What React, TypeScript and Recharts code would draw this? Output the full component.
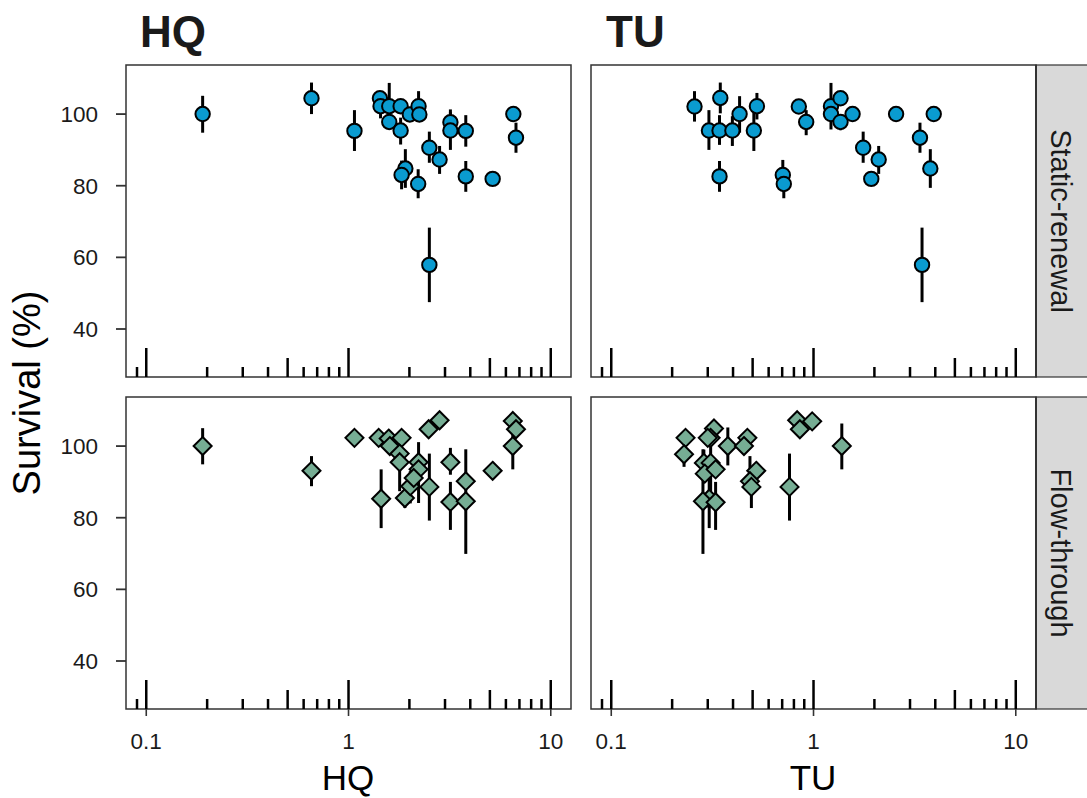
import React from "react";
import { ScatterChart, Scatter, XAxis, YAxis, ErrorBar, ReferenceLine, ReferenceArea } from "recharts";

const FONT = "'Liberation Sans', Arial, Helvetica, sans-serif";

// Panel titles / facets
const PANEL_TITLES = ["HQ", "TU"];
const STRIP_LABELS = ["Static-renewal", "Flow-through"];
const Y_TITLE = "Survival (%)";

// Axes
const X_DOMAIN: [number, number] = [0.0794, 12.59];
const Y_DOMAIN: [number, number] = [26.6, 113.7];
const X_TICKS = [0.1, 1, 10];
const Y_TICKS = [40, 60, 80, 100];
const LOG_TICKS_MAJOR = [0.1, 1, 10];
const LOG_TICKS_MID = [0.5, 5];
const LOG_TICKS_MINOR = [0.09, 0.2, 0.3, 0.4, 0.6, 0.7, 0.8, 0.9, 2, 3, 4, 6, 7, 8, 9];
const LOG_TICK_LEN = { major: 8.1, mid: 5.3, minor: 2.8 };

// Static-renewal, HQ
const SR_HQ_X = [0.19, 0.656, 1.07, 1.43, 1.44, 1.59, 1.59, 1.81, 1.81, 1.91, 1.83, 2.01, 2.22, 2.24, 2.21, 2.51, 2.51, 2.82, 3.19, 3.19, 3.8, 3.8, 5.16, 6.53, 6.73];
const SR_HQ_Y = [100, 104.4, 95.3, 104.4, 102.2, 102.2, 97.8, 102.2, 95.4, 84.8, 83.0, 99.9, 102.2, 99.9, 80.5, 90.6, 57.9, 87.3, 97.7, 95.4, 95.3, 82.6, 81.9, 100, 93.4];
const SR_HQ_LO = [94.8, 100, 89.7, 104.4, 98.8, 97.0, 97.8, 102.2, 91.5, 79.4, 79.0, 99.9, 99.0, 99.9, 76.5, 86.4, 47.5, 83.3, 97.7, 90.0, 90.9, 78.3, 81.9, 98.8, 89.2];
const SR_HQ_HI = [105.1, 108.8, 101.1, 104.4, 104.0, 108.7, 97.8, 102.2, 99.0, 90.2, 87.0, 99.9, 106.4, 99.9, 84.6, 95.1, 68.3, 91.1, 100.5, 101.3, 99.7, 86.9, 81.9, 101.2, 97.6];

// Static-renewal, TU
const SR_TU_X = [0.258, 0.346, 0.304, 0.343, 0.397, 0.431, 0.525, 0.507, 0.343, 0.705, 0.713, 0.846, 0.92, 1.22, 1.22, 1.36, 1.36, 1.56, 1.76, 1.93, 2.1, 2.56, 3.36, 3.44, 3.78, 3.93];
const SR_TU_Y = [102.1, 104.5, 95.4, 95.4, 95.4, 100, 102.2, 95.4, 82.6, 83.0, 80.5, 102.1, 97.8, 102.2, 100, 104.4, 97.8, 100, 90.6, 81.9, 87.3, 100, 93.4, 57.9, 84.8, 100];
const SR_TU_LO = [97.9, 100.2, 90.0, 91.4, 91.1, 94.8, 98.5, 89.7, 78.3, 80.0, 76.5, 102.1, 94.1, 95.7, 100, 104.4, 95.5, 100, 86.4, 81.9, 83.3, 98.8, 89.2, 47.5, 79.4, 100];
const SR_TU_HI = [106.4, 108.8, 101.1, 99.7, 99.4, 105.0, 105.9, 101.1, 86.9, 87.2, 84.6, 102.1, 101.1, 108.7, 100, 104.4, 97.8, 100, 95.1, 81.9, 91.1, 101.2, 97.6, 68.3, 90.2, 100];

// Flow-through, HQ
const FT_HQ_X = [0.19, 0.656, 1.07, 1.41, 1.45, 1.58, 1.6, 1.83, 1.79, 1.79, 1.9, 2.02, 2.22, 2.22, 2.1, 2.51, 2.49, 2.82, 3.19, 3.19, 3.8, 3.8, 5.16, 6.49, 6.73, 6.49];
const FT_HQ_Y = [100, 93.1, 102.3, 102.3, 85.3, 102.1, 100, 102.3, 97.9, 95.5, 85.5, 88.8, 95.5, 93.5, 91.1, 88.6, 104.7, 107.2, 95.5, 84.4, 90.2, 84.6, 93.1, 107.0, 104.7, 100];
const FT_HQ_LO = [94.9, 88.8, 102.3, 102.3, 77.1, 102.1, 100, 102.3, 97.9, 87.4, 82.7, 84.0, 84.1, 93.5, 91.1, 79.2, 104.7, 107.2, 92.0, 76.6, 90.2, 69.9, 93.1, 107.0, 104.7, 93.5];
const FT_HQ_HI = [105.0, 97.2, 102.3, 102.3, 93.5, 102.1, 100, 102.3, 97.9, 100.0, 88.0, 93.0, 101.1, 93.5, 91.1, 97.9, 104.7, 107.2, 99.5, 90.0, 90.2, 99.1, 93.1, 107.0, 104.7, 103.8];

// Flow-through, TU
const FT_TU_X = [0.233, 0.229, 0.322, 0.31, 0.3, 0.287, 0.31, 0.29, 0.328, 0.305, 0.284, 0.328, 0.377, 0.471, 0.453, 0.521, 0.485, 0.493, 0.761, 0.83, 0.856, 0.985, 1.38];
const FT_TU_Y = [102.3, 97.7, 104.9, 102.3, 102.3, 95.3, 95.3, 92.3, 93.5, 85.3, 84.6, 84.3, 100, 102.3, 100, 93.1, 90.2, 88.6, 88.6, 107.2, 104.7, 106.9, 100];
const FT_TU_LO = [102.3, 94.2, 104.9, 102.3, 102.3, 91.0, 87.4, 92.3, 93.5, 77.1, 69.9, 76.6, 94.6, 102.3, 100, 93.1, 90.2, 82.7, 79.2, 107.2, 104.7, 106.9, 93.5];
const FT_TU_HI = [102.3, 100.0, 104.9, 102.3, 102.3, 99.0, 100.0, 92.3, 93.5, 93.5, 99.1, 90.0, 105.2, 102.3, 100, 93.1, 97.2, 91.0, 97.9, 107.2, 104.7, 106.9, 106.3];

const CIRCLE_FILL = "#0a9bd0";
const DIAMOND_FILL = "#76ad94";
const AXIS_COLOR = "#333333";

function build(xs: number[], ys: number[], lo: number[], hi: number[]) {
  return xs.map((x, i) => ({ x, y: ys[i], err: [ys[i] - lo[i], hi[i] - ys[i]] }));
}

const CircleShape = (p: any) => (
  <circle cx={p.cx} cy={p.cy} r={7.2} fill={CIRCLE_FILL} stroke="#000" strokeWidth={2} />
);
const DiamondShape = (p: any) => {
  const r = 9;
  const d = `M${p.cx},${p.cy - r} L${p.cx + r},${p.cy} L${p.cx},${p.cy + r} L${p.cx - r},${p.cy} Z`;
  return <path d={d} fill={DIAMOND_FILL} stroke="#000" strokeWidth={2} strokeLinejoin="miter" />;
};

const TickLabelX = (p: any) => (
  <text x={p.x} y={p.y} dy={16} textAnchor="middle" fontSize={22.5} fontFamily={FONT} fill="#1a1a1a">
    {String(p.payload.value)}
  </text>
);
const TickLabelY = (p: any) => (
  <text x={p.x} y={p.y} dy={8} textAnchor="end" fontSize={22.5} fontFamily={FONT} fill="#1a1a1a">
    {String(p.payload.value)}
  </text>
);

type PanelProps = {
  data: { x: number; y: number; err: number[] }[];
  kind: "circle" | "diamond";
  showY: boolean;
  showX: boolean;
  left: number;
  top: number;
  width: number;
  height: number;
  margin: { top: number; right: number; bottom: number; left: number };
};

function Panel({ data, kind, showY, showX, left, top, width, height, margin }: PanelProps) {
  const rug = [
    ...LOG_TICKS_MAJOR.map((v) => ({ v, len: LOG_TICK_LEN.major })),
    ...LOG_TICKS_MID.map((v) => ({ v, len: LOG_TICK_LEN.mid })),
    ...LOG_TICKS_MINOR.map((v) => ({ v, len: LOG_TICK_LEN.minor })),
  ];
  return (
    <div style={{ position: "absolute", left, top, width, height }}>
      <ScatterChart width={width} height={height} margin={margin}>
        <XAxis
          type="number"
          dataKey="x"
          scale="log"
          domain={X_DOMAIN}
          allowDataOverflow
          ticks={X_TICKS}
          hide={!showX}
          height={showX ? 89 : 0}
          axisLine={false}
          tickSize={7}
          tickMargin={17}
          tickLine={{ stroke: AXIS_COLOR, strokeWidth: 1.6 }}
          tick={TickLabelX}
          interval={0}
        />
        <YAxis
          type="number"
          dataKey="y"
          domain={Y_DOMAIN}
          allowDataOverflow
          ticks={Y_TICKS}
          hide={!showY}
          width={showY ? 126 : 0}
          axisLine={false}
          tickSize={10}
          tickMargin={18}
          tickLine={{ stroke: AXIS_COLOR, strokeWidth: 1.8 }}
          tick={TickLabelY}
          interval={0}
        />
        {rug.map((t) => (
          <ReferenceLine
            key={`rug-${t.v}`}
            segment={[
              { x: t.v, y: Y_DOMAIN[0] },
              { x: t.v, y: Y_DOMAIN[0] + t.len },
            ]}
            stroke="#000"
            strokeWidth={2.5}
            ifOverflow="visible"
          />
        ))}
        <Scatter
          data={data}
          isAnimationActive={false}
          shape={kind === "circle" ? CircleShape : DiamondShape}
        >
          <ErrorBar dataKey="err" direction="y" width={0} stroke="#000" strokeWidth={3} />
        </Scatter>
        <ReferenceArea
          x1={X_DOMAIN[0]}
          x2={X_DOMAIN[1]}
          y1={Y_DOMAIN[0]}
          y2={Y_DOMAIN[1]}
          fill="none"
          fillOpacity={0}
          stroke={AXIS_COLOR}
          strokeWidth={1.5}
          ifOverflow="visible"
        />
      </ScatterChart>
    </div>
  );
}

export default function App() {
  const srHQ = build(SR_HQ_X, SR_HQ_Y, SR_HQ_LO, SR_HQ_HI);
  const srTU = build(SR_TU_X, SR_TU_Y, SR_TU_LO, SR_TU_HI);
  const ftHQ = build(FT_HQ_X, FT_HQ_Y, FT_HQ_LO, FT_HQ_HI);
  const ftTU = build(FT_TU_X, FT_TU_Y, FT_TU_LO, FT_TU_HI);
  const leftM = { right: 9, left: 0 };
  const rightM = { right: 14, left: 11 };
  return (
    <div
      style={{
        position: "absolute",
        left: 0,
        top: 0,
        width: 1087,
        height: 798,
        background: "#fff",
        overflow: "hidden",
        fontFamily: FONT,
      }}
    >
      <Panel data={srHQ} kind="circle" showY showX={false} left={0} top={0} width={580} height={390}
        margin={{ top: 65, bottom: 13, ...leftM }} />
      <Panel data={srTU} kind="circle" showY={false} showX={false} left={580} top={0} width={470} height={390}
        margin={{ top: 65, bottom: 13, ...rightM }} />
      <Panel data={ftHQ} kind="diamond" showY showX left={0} top={390} width={580} height={408}
        margin={{ top: 7, bottom: 0, ...leftM }} />
      <Panel data={ftTU} kind="diamond" showY={false} showX left={580} top={390} width={470} height={408}
        margin={{ top: 7, bottom: 0, ...rightM }} />
      <svg width={1087} height={798} style={{ position: "absolute", left: 0, top: 0, pointerEvents: "none" }}>
        <text x={140} y={47} fontSize={44} fontWeight="bold" fill="#1a1a1a" fontFamily={FONT}>{PANEL_TITLES[0]}</text>
        <text x={606} y={47} fontSize={44} fontWeight="bold" fill="#1a1a1a" fontFamily={FONT}>{PANEL_TITLES[1]}</text>
        <text x={348} y={790} fontSize={35} textAnchor="middle" fill="#000" fontFamily={FONT}>{PANEL_TITLES[0]}</text>
        <text x={813} y={790} fontSize={35} textAnchor="middle" fill="#000" fontFamily={FONT}>{PANEL_TITLES[1]}</text>
        <text x={40} y={393} fontSize={38} textAnchor="middle" fill="#000" fontFamily={FONT}
          transform="rotate(-90, 40, 393)">{Y_TITLE}</text>
        {[65, 397].map((sy, i) => (
          <g key={sy}>
            <rect x={1036} y={sy} width={60} height={312} fill="#d9d9d9" stroke={AXIS_COLOR} strokeWidth={1.2} />
            <line x1={1036} y1={sy} x2={1036} y2={sy + 312} stroke={AXIS_COLOR} strokeWidth={2} />
            <text x={1051} y={sy + 156} fontSize={29} textAnchor="middle" fill="#1a1a1a" fontFamily={FONT}
              transform={`rotate(90, 1051, ${sy + 156})`}>{STRIP_LABELS[i]}</text>
          </g>
        ))}
      </svg>
    </div>
  );
}
